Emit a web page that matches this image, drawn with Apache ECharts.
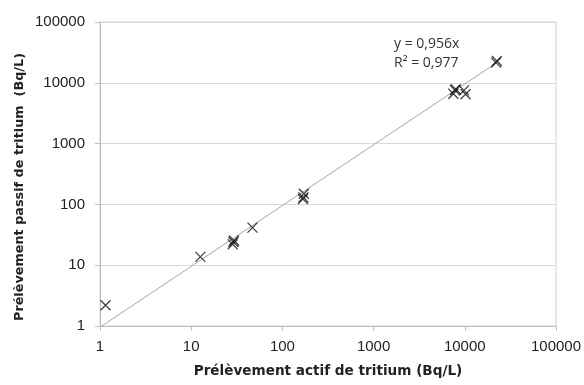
<!DOCTYPE html>
<html><head><meta charset="utf-8">
<script src="https://cdn.jsdelivr.net/npm/echarts@6/dist/echarts.min.js"></script>
<style>html,body{margin:0;padding:0;background:#fff}#c{width:584px;height:385px}</style>
</head><body><div id="c"></div>
<script>
// Measured values (Bq/L)
var activeX  = [1.15, 12.6, 28.5, 29, 29.5, 47, 168, 170, 172, 7500, 7800, 8000, 9800, 10200, 22000, 22500];
var passiveY = [2.2, 13.7, 22, 24, 25.5, 41.5, 122, 130, 150, 6600, 7600, 7800, 7500, 6500, 21500, 22800];
var trendX = [1, 22000];
var trendY = [0.956, 21032];
var axisTicks = [1, 10, 100, 1000, 10000, 100000];
var eqText = 'y = 0,956x';
var r2Text = 'R² = 0,977';
var xTitle = 'Prélèvement actif de tritium (Bq/L)';
var yTitle = 'Prélèvement passif de tritium  (Bq/L)';

var pts = activeX.map(function(x, i){ return [x, passiveY[i]]; });
var trend = trendX.map(function(x, i){ return [x, trendY[i]]; });

var chart = echarts.init(document.getElementById('c'), null, {renderer:'canvas'});
var gridC = '#d9d9d9';
function fmt(v){ return String(Math.round(v)); }
chart.setOption({
  animation:false,
  backgroundColor:'#fff',
  grid:{left:100, right:27, top:22, bottom:59, show:true, borderColor:'#d0d0d0', borderWidth:1},
  xAxis:{type:'log', logBase:10, min:axisTicks[0], max:axisTicks[axisTicks.length-1],
    name:xTitle, nameLocation:'middle', nameGap:38,
    nameTextStyle:{fontFamily:'DejaVu Sans', fontWeight:'bold', fontSize:13.6, color:'#222'},
    axisLine:{show:true, lineStyle:{color:'#bfbfbf'}},
    axisTick:{show:true, length:5, lineStyle:{color:'#bfbfbf'}},
    axisLabel:{margin:13, fontFamily:'Liberation Sans', fontSize:15, color:'#222', formatter:fmt},
    splitLine:{show:false}},
  yAxis:{type:'log', logBase:10, min:axisTicks[0], max:axisTicks[axisTicks.length-1],
    axisLine:{show:true, lineStyle:{color:'#bfbfbf'}},
    axisTick:{show:true, length:5, lineStyle:{color:'#bfbfbf'}},
    axisLabel:{margin:15, fontFamily:'Liberation Sans', fontSize:15, color:'#222', formatter:fmt},
    splitLine:{show:true, lineStyle:{color:gridC, width:1}}},
  graphic:[
    {type:'text', x:20, y:187, rotation:Math.PI/2,
     style:{text:yTitle, font:'bold 12.8px "DejaVu Sans"', fill:'#222', align:'center', verticalAlign:'middle'}},
    {type:'text', left:394, top:37, style:{text:eqText, font:'14px "Open Sans"', fill:'#333'}},
    {type:'text', left:394, top:56, style:{text:r2Text, font:'14px "Open Sans"', fill:'#333'}}
  ],
  series:[
    {type:'line', data:trend, symbol:'none', lineStyle:{color:'#a6a6a6', width:1}, z:2},
    {type:'scatter', data:pts, symbol:'path://M0,0L10,10M10,0L0,10', symbolSize:10,
     itemStyle:{color:'none', borderColor:'#111', borderWidth:1.3}, z:3}
  ]
});
</script></body></html>
